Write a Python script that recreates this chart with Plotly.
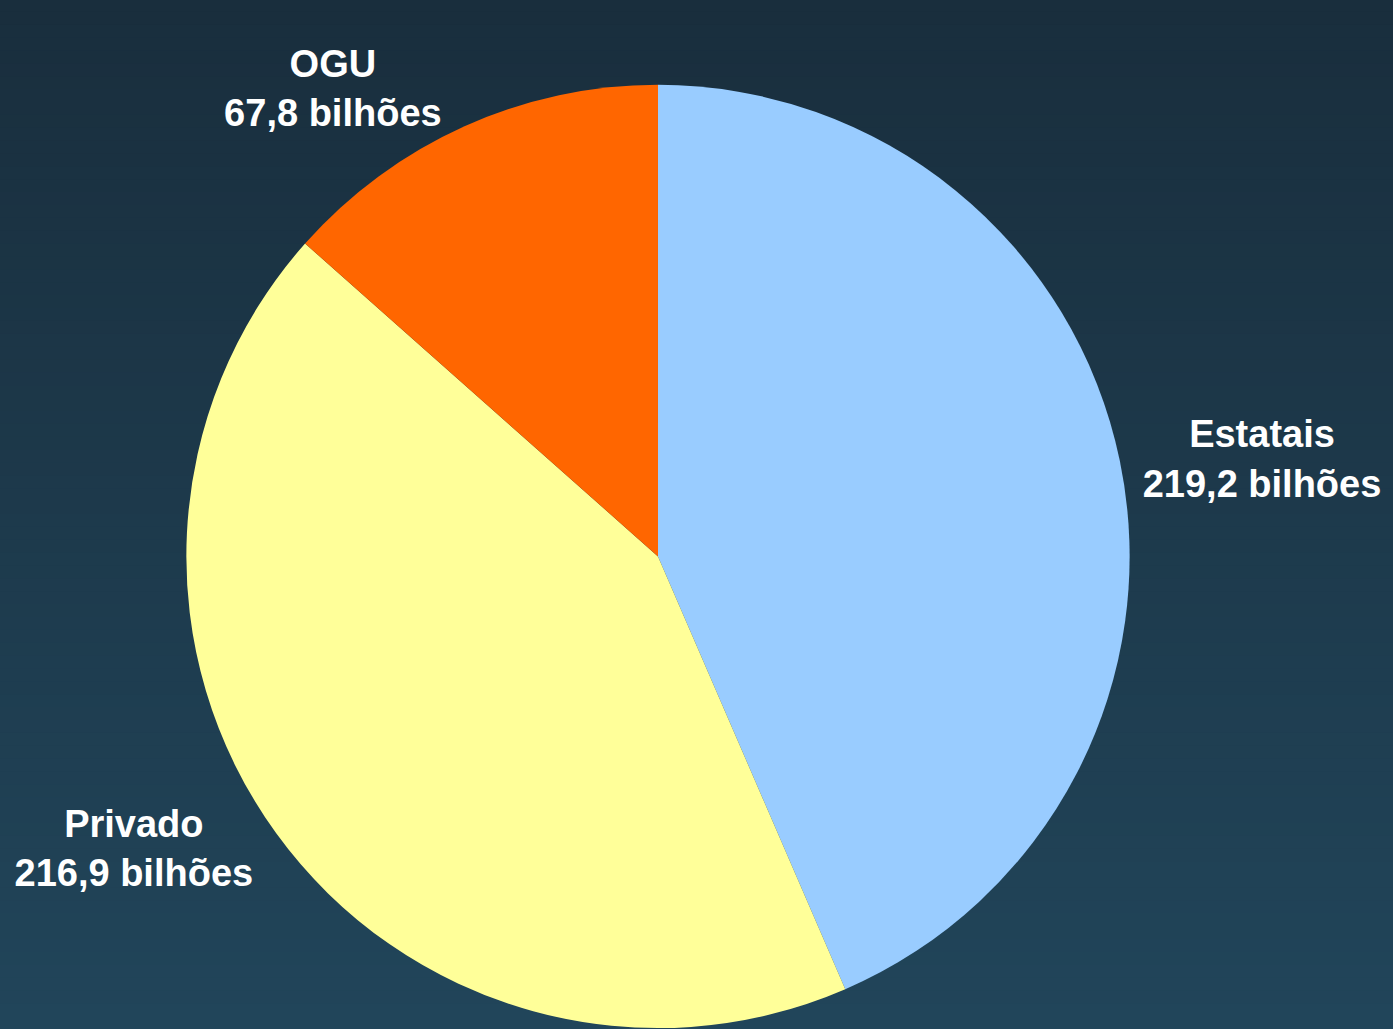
import plotly.graph_objects as go

labels = ["Estatais", "Privado", "OGU"]
values = [219.2, 216.9, 67.8]
colors = ["#99ccff", "#ffff99", "#ff6600"]
unit = "bilhões"

texts = [f"<b>{l}</b><br><b>{str(v).replace('.', ',')} {unit}</b>" for l, v in zip(labels, values)]

fig = go.Figure(go.Pie(
    labels=labels,
    values=values,
    text=texts,
    textinfo="text",
    textposition="outside",
    sort=False,
    direction="clockwise",
    rotation=0,
    marker=dict(colors=colors, line=dict(width=0)),
    outsidetextfont=dict(color="white", size=38, family="Liberation Sans, Arial, sans-serif"),
    showlegend=False,
    domain=dict(x=[0.1328, 0.8119], y=[0.0019, 0.9177]),
    hoverinfo="label+value",
))

# vertical gradient background
top = (0x19, 0x2e, 0x3d)
bot = (0x21, 0x45, 0x5a)
n = 80
shapes = []
for i in range(n):
    t = i / (n - 1)
    c = tuple(round(top[k] + (bot[k] - top[k]) * t) for k in range(3))
    shapes.append(dict(
        type="rect", xref="paper", yref="paper", layer="below",
        x0=0, x1=1, y0=1 - (i + 1) / n, y1=1 - i / n + 0.001,
        fillcolor="rgb(%d,%d,%d)" % c, line=dict(width=0),
    ))

fig.update_layout(
    width=1393, height=1033,
    margin=dict(l=0, r=0, t=0, b=0),
    paper_bgcolor="#1d3a4c",
    plot_bgcolor="rgba(0,0,0,0)",
    shapes=shapes,
)

fig.write_html(
    "out.html",
    config={"displayModeBar": False},
    post_script="document.body.style.margin='0';document.body.style.overflow='hidden';document.documentElement.style.overflow='hidden';document.body.style.background='#21455a';",
)
